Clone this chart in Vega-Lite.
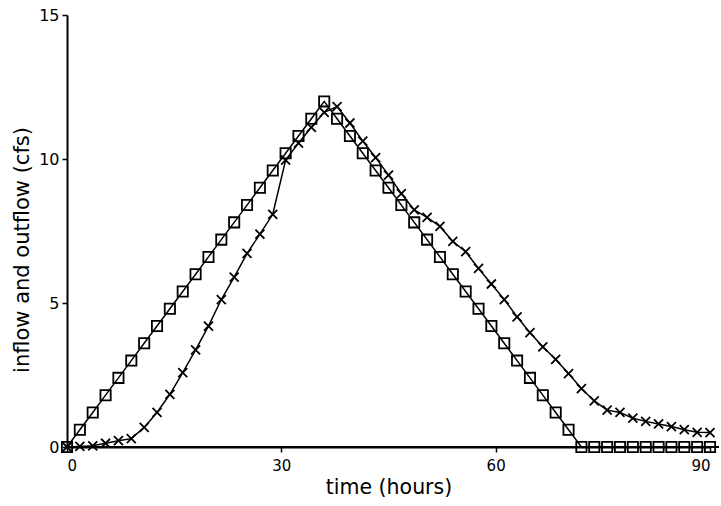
{
  "$schema": "https://vega.github.io/schema/vega-lite/v6.json",
  "width": 643,
  "height": 432,
  "autosize": "none",
  "padding": {"left": 67, "top": 15, "right": 11, "bottom": 59},
  "background": "white",
  "config": {
    "view": {"stroke": null},
    "font": "DejaVu Sans",
    "axis": {
      "grid": false,
      "domainColor": "black",
      "domainWidth": 2,
      "tickColor": "black",
      "tickWidth": 1.5,
      "tickSize": 5,
      "labelColor": "black",
      "labelFont": "DejaVu Sans",
      "titleColor": "black",
      "titleFont": "DejaVu Sans",
      "titleFontWeight": "normal"
    }
  },
  "data": {
    "values": [
      {"t": 0, "q": 0, "s": "inflow"},
      {"t": 1.8, "q": 0.6, "s": "inflow"},
      {"t": 3.6, "q": 1.2, "s": "inflow"},
      {"t": 5.4, "q": 1.8, "s": "inflow"},
      {"t": 7.2, "q": 2.4, "s": "inflow"},
      {"t": 9.0, "q": 3.0, "s": "inflow"},
      {"t": 10.8, "q": 3.6, "s": "inflow"},
      {"t": 12.6, "q": 4.2, "s": "inflow"},
      {"t": 14.4, "q": 4.8, "s": "inflow"},
      {"t": 16.2, "q": 5.4, "s": "inflow"},
      {"t": 18.0, "q": 6.0, "s": "inflow"},
      {"t": 19.8, "q": 6.6, "s": "inflow"},
      {"t": 21.6, "q": 7.2, "s": "inflow"},
      {"t": 23.4, "q": 7.8, "s": "inflow"},
      {"t": 25.2, "q": 8.4, "s": "inflow"},
      {"t": 27.0, "q": 9.0, "s": "inflow"},
      {"t": 28.8, "q": 9.6, "s": "inflow"},
      {"t": 30.6, "q": 10.2, "s": "inflow"},
      {"t": 32.4, "q": 10.8, "s": "inflow"},
      {"t": 34.2, "q": 11.4, "s": "inflow"},
      {"t": 36.0, "q": 12.0, "s": "inflow"},
      {"t": 37.8, "q": 11.4, "s": "inflow"},
      {"t": 39.6, "q": 10.8, "s": "inflow"},
      {"t": 41.4, "q": 10.2, "s": "inflow"},
      {"t": 43.2, "q": 9.6, "s": "inflow"},
      {"t": 45.0, "q": 9.0, "s": "inflow"},
      {"t": 46.8, "q": 8.4, "s": "inflow"},
      {"t": 48.6, "q": 7.8, "s": "inflow"},
      {"t": 50.4, "q": 7.2, "s": "inflow"},
      {"t": 52.2, "q": 6.6, "s": "inflow"},
      {"t": 54.0, "q": 6.0, "s": "inflow"},
      {"t": 55.8, "q": 5.4, "s": "inflow"},
      {"t": 57.6, "q": 4.8, "s": "inflow"},
      {"t": 59.4, "q": 4.2, "s": "inflow"},
      {"t": 61.2, "q": 3.6, "s": "inflow"},
      {"t": 63.0, "q": 3.0, "s": "inflow"},
      {"t": 64.8, "q": 2.4, "s": "inflow"},
      {"t": 66.6, "q": 1.8, "s": "inflow"},
      {"t": 68.4, "q": 1.2, "s": "inflow"},
      {"t": 70.2, "q": 0.6, "s": "inflow"},
      {"t": 72.0, "q": 0, "s": "inflow"},
      {"t": 73.8, "q": 0, "s": "inflow"},
      {"t": 75.6, "q": 0, "s": "inflow"},
      {"t": 77.4, "q": 0, "s": "inflow"},
      {"t": 79.2, "q": 0, "s": "inflow"},
      {"t": 81.0, "q": 0, "s": "inflow"},
      {"t": 82.8, "q": 0, "s": "inflow"},
      {"t": 84.6, "q": 0, "s": "inflow"},
      {"t": 86.4, "q": 0, "s": "inflow"},
      {"t": 88.2, "q": 0, "s": "inflow"},
      {"t": 90.0, "q": 0, "s": "inflow"},
      {"t": 0, "q": 0, "s": "outflow"},
      {"t": 1.8, "q": 0.02, "s": "outflow"},
      {"t": 3.6, "q": 0.04, "s": "outflow"},
      {"t": 5.4, "q": 0.13, "s": "outflow"},
      {"t": 7.2, "q": 0.22, "s": "outflow"},
      {"t": 9.0, "q": 0.29, "s": "outflow"},
      {"t": 10.8, "q": 0.68, "s": "outflow"},
      {"t": 12.6, "q": 1.2, "s": "outflow"},
      {"t": 14.4, "q": 1.83, "s": "outflow"},
      {"t": 16.2, "q": 2.58, "s": "outflow"},
      {"t": 18.0, "q": 3.37, "s": "outflow"},
      {"t": 19.8, "q": 4.2, "s": "outflow"},
      {"t": 21.6, "q": 5.12, "s": "outflow"},
      {"t": 23.4, "q": 5.9, "s": "outflow"},
      {"t": 25.2, "q": 6.72, "s": "outflow"},
      {"t": 27.0, "q": 7.39, "s": "outflow"},
      {"t": 28.8, "q": 8.08, "s": "outflow"},
      {"t": 30.6, "q": 9.96, "s": "outflow"},
      {"t": 32.4, "q": 10.55, "s": "outflow"},
      {"t": 34.2, "q": 11.1, "s": "outflow"},
      {"t": 36.0, "q": 11.62, "s": "outflow"},
      {"t": 37.8, "q": 11.82, "s": "outflow"},
      {"t": 39.6, "q": 11.25, "s": "outflow"},
      {"t": 41.4, "q": 10.62, "s": "outflow"},
      {"t": 43.2, "q": 10.05, "s": "outflow"},
      {"t": 45.0, "q": 9.44, "s": "outflow"},
      {"t": 46.8, "q": 8.8, "s": "outflow"},
      {"t": 48.6, "q": 8.23, "s": "outflow"},
      {"t": 50.4, "q": 7.97, "s": "outflow"},
      {"t": 52.2, "q": 7.66, "s": "outflow"},
      {"t": 54.0, "q": 7.14, "s": "outflow"},
      {"t": 55.8, "q": 6.78, "s": "outflow"},
      {"t": 57.6, "q": 6.2, "s": "outflow"},
      {"t": 59.4, "q": 5.66, "s": "outflow"},
      {"t": 61.2, "q": 5.12, "s": "outflow"},
      {"t": 63.0, "q": 4.52, "s": "outflow"},
      {"t": 64.8, "q": 3.97, "s": "outflow"},
      {"t": 66.6, "q": 3.48, "s": "outflow"},
      {"t": 68.4, "q": 3.04, "s": "outflow"},
      {"t": 70.2, "q": 2.55, "s": "outflow"},
      {"t": 72.0, "q": 2.03, "s": "outflow"},
      {"t": 73.8, "q": 1.6, "s": "outflow"},
      {"t": 75.6, "q": 1.28, "s": "outflow"},
      {"t": 77.4, "q": 1.2, "s": "outflow"},
      {"t": 79.2, "q": 1.0, "s": "outflow"},
      {"t": 81.0, "q": 0.89, "s": "outflow"},
      {"t": 82.8, "q": 0.8, "s": "outflow"},
      {"t": 84.6, "q": 0.71, "s": "outflow"},
      {"t": 86.4, "q": 0.6, "s": "outflow"},
      {"t": 88.2, "q": 0.51, "s": "outflow"},
      {"t": 90.0, "q": 0.5, "s": "outflow"}
    ]
  },
  "layer": [
    {
      "mark": {"type": "rule", "color": "black", "strokeWidth": 2},
      "encoding": {
        "x": {"datum": 0, "type": "quantitative"},
        "x2": {"datum": 91.2},
        "y": {"datum": 0, "type": "quantitative"}
      }
    },
    {
      "mark": {"type": "line", "color": "black", "strokeWidth": 1.5},
      "encoding": {
        "x": {
          "field": "t",
          "type": "quantitative",
          "scale": {"domain": [0, 90], "nice": false},
          "axis": {"values": [0, 30, 60, 90], "title": "time (hours)", "labelFontSize": 15, "labelPadding": 6, "titlePadding": 4, "titleFontSize": 20.5}
        },
        "y": {
          "field": "q",
          "type": "quantitative",
          "scale": {"domain": [0, 15], "nice": false},
          "axis": {"values": [0, 5, 10, 15], "title": "inflow and outflow (cfs)", "labelFontSize": 16, "labelPadding": 3, "titlePadding": 6, "titleFontSize": 21, "titleY": 234.5}
        },
        "detail": {"field": "s"}
      }
    },
    {
      "mark": {"type": "point", "filled": false, "color": "black", "strokeWidth": 1.8, "opacity": 1},
      "encoding": {
        "x": {"field": "t", "type": "quantitative"},
        "y": {"field": "q", "type": "quantitative"},
        "shape": {
          "field": "s",
          "type": "nominal",
          "scale": {"domain": ["inflow", "outflow"], "range": ["square", "M-1,-1L1,1M-1,1L1,-1"]},
          "legend": null
        },
        "size": {
          "field": "s",
          "type": "nominal",
          "scale": {"domain": ["inflow", "outflow"], "range": [105, 81]},
          "legend": null
        }
      }
    }
  ]
}
